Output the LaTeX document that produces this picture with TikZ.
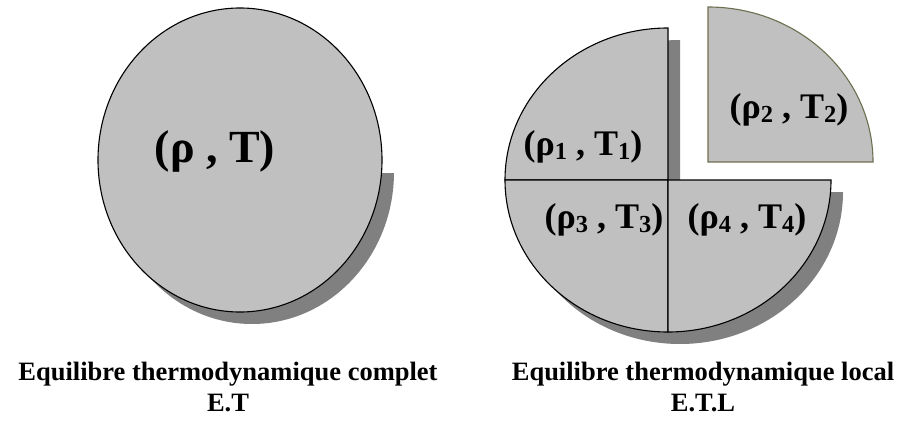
\documentclass[tikz,border=0pt]{standalone}
\usepackage{fontspec}
\setmainfont{Liberation Serif}
\usepackage{graphicx}
\usepackage{tikz}
\usetikzlibrary{positioning}
\definecolor{piegray}{RGB}{192, 192, 192}
\definecolor{shadowgray}{RGB}{128, 128, 128}
\definecolor{pieceedge}{RGB}{110, 110, 80}
\newcommand{\cellidx}[1]{\raisebox{-0.1em}{\scalebox{0.68}{#1}}}
\tikzset{
    piece/.style={draw=black, fill=piegray, line width=1.1pt},
    shadowfill/.style={fill=shadowgray, draw=none},
    statelabel/.style={font=\bfseries\fontsize{36}{36}\selectfont, inner sep=0pt},
    biglabel/.style={statelabel, font=\bfseries\fontsize{46}{46}\selectfont},
    caption/.style={font=\bfseries\fontsize{26.5}{31}\selectfont, align=center},
}

\begin{document}
\begin{tikzpicture}[x=1pt, y=1pt]
    \useasboundingbox (0,0) rectangle (909,421);
    % equilibre complet
    \begin{scope}
        \clip (0,0) rectangle (909,248);
        \fill[shadowfill] (252,249) ellipse [x radius=142, y radius=152];
    \end{scope}
    \draw[piece] (240,261) ellipse [x radius=142, y radius=152];
    \node[biglabel] (global) at (215,270) {(ρ , T)};
    % equilibre local
    \fill[shadowfill] (680,229) -- ++(0,152) arc[start angle=90, end angle=360, x radius=163, y radius=152] -- cycle;
    \draw[piece] (668,241) -- ++(0,152) arc[start angle=90, end angle=180, x radius=163, y radius=152] -- cycle;
    \draw[piece] (668,241) -- ++(-163,0) arc[start angle=180, end angle=270, x radius=163, y radius=152] -- cycle;
    \draw[piece] (668,241) -- ++(0,-152) arc[start angle=270, end angle=360, x radius=163, y radius=152] -- cycle;
    \draw[piece, draw=pieceedge] (708,259) -- ++(165,0) arc[start angle=0, end angle=90, x radius=165, y radius=155] -- cycle;
    \node[statelabel] (cell1) at (583,274) {(ρ\cellidx{1} , T\cellidx{1})};
    \node[statelabel] (cell2) at (789,311) {(ρ\cellidx{2} , T\cellidx{2})};
    \node[statelabel] (cell3) at (604,201) {(ρ\cellidx{3} , T\cellidx{3})};
    \node[statelabel] (cell4) at (747,201) {(ρ\cellidx{4} , T\cellidx{4})};
    % legendes
    \node[caption] (etc) at (228,34) {Equilibre thermodynamique complet\\E.T};
    \node[caption] (etl) at (703,34) {Equilibre thermodynamique local\\E.T.L};
\end{tikzpicture}
\end{document}
